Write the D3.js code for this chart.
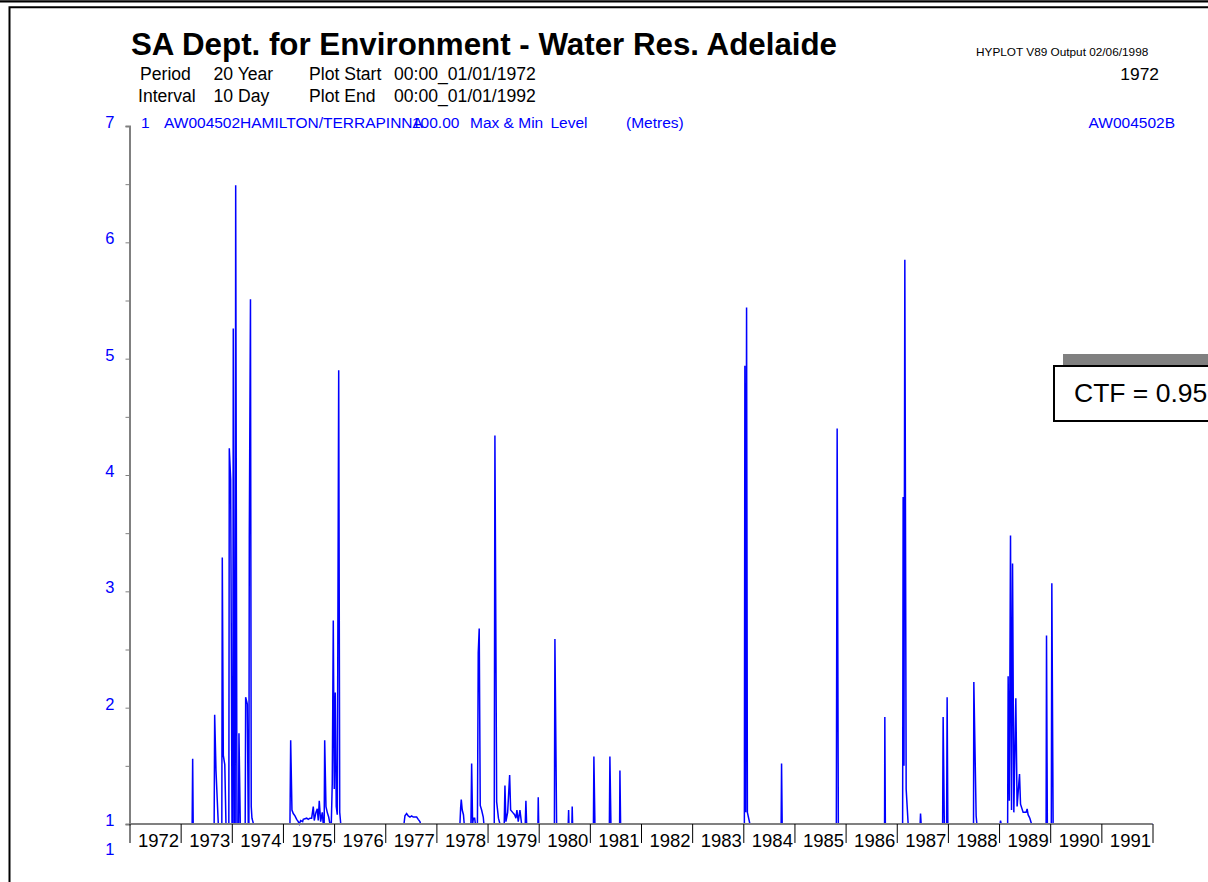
<!DOCTYPE html>
<html><head><meta charset="utf-8">
<script src="https://cdn.jsdelivr.net/npm/d3@7"></script>
<style>
body{margin:0;background:#fff}
svg{display:block}
text{font-family:"Liberation Sans",Arial,sans-serif}
</style>
</head><body>
<svg id="c" width="1208" height="882"></svg>
<script>
// ---- data ----
const yearLabels = ["1972","1973","1974","1975","1976","1977","1978","1979","1980","1981",
                    "1982","1983","1984","1985","1986","1987","1988","1989","1990","1991"];
const yTickValues = [1,2,3,4,5,6,7];
const yMinorValues = [1.5,2.5,3.5,4.5,5.5,6.5];
// decimal-year dates and water levels (m)
const dates = [
 1972.000,1973.225,1973.235,1973.245,1973.655,1973.665,1973.691,1973.736,1973.805,1973.814,
 1973.834,1973.863,1973.886,1973.942,1973.951,1973.978,1974.004,1974.020,1974.029,1974.052,
 1974.066,1974.076,1974.101,1974.132,1974.140,1974.166,1974.262,1974.271,1974.303,1974.322,
 1974.334,1974.342,1974.365,1974.380,1974.394,1974.424,
 1975.137,1975.151,1975.176,1975.202,1975.235,1975.268,1975.299,1975.319,1975.346,1975.385,
 1975.397,1975.464,1975.495,1975.528,1975.561,1975.593,1975.612,1975.645,1975.671,1975.690,
 1975.710,1975.737,1975.769,1975.788,1975.806,1975.816,1975.841,1975.866,1975.894,1975.919,
 1975.945,1975.964,1975.984,1976.003,1976.023,1976.042,1976.062,1976.090,1976.110,1976.130,
 1977.366,1977.385,1977.418,1977.450,1977.483,1977.516,1977.547,1977.614,1977.645,1977.678,1977.692,
 1978.460,1978.474,1978.486,1978.505,1978.529,1978.544,
 1978.675,1978.689,1978.708,1978.724,1978.748,1978.763,
 1978.802,1978.818,1978.837,1978.857,1978.884,1978.916,1978.929,
 1979.131,1979.144,1979.178,1979.213,1979.242,
 1979.326,1979.340,1979.359,1979.393,1979.432,1979.451,1979.490,1979.529,1979.555,1979.574,
 1979.600,1979.633,1979.666,
 1979.737,1979.750,1979.764,
 1979.985,1979.991,1980.000,
 1980.307,1980.317,1980.350,
 1980.577,1980.585,1980.591,
 1980.649,1980.655,1980.663,
 1981.070,1981.079,1981.099,
 1981.382,1981.392,1981.412,
 1981.582,1981.588,1981.601,
 1984.021,1984.031,1984.047,1984.064,1984.080,1984.129,
 1984.740,1984.748,1984.760,
 1985.819,1985.835,1985.858,
 1986.762,1986.767,1986.777,
 1987.115,1987.125,1987.141,1987.158,1987.184,1987.223,
 1987.457,1987.465,1987.477,
 1987.897,1987.907,1987.930,
 1987.975,1987.985,1987.999,
 1988.501,1988.507,1988.552,1988.566,
 1989.021,1989.029,1989.041,
 1989.168,1989.178,1989.201,1989.224,1989.244,1989.264,1989.289,1989.328,1989.353,1989.400,
 1989.420,1989.471,1989.529,1989.549,1989.568,1989.602,1989.635,
 1989.920,1989.928,1989.944,
 1990.022,1990.032,1990.057,
 1992.000
];
const levels = [
 1.00,1.00,1.56,1.00,1.00,1.94,1.46,1.00,1.00,3.29,
 1.59,1.51,1.00,1.00,4.23,3.96,1.00,1.00,5.26,1.00,
 1.00,6.49,1.00,1.00,1.78,1.00,1.00,2.09,2.03,1.00,
 1.00,3.46,5.51,1.15,1.05,1.00,
 1.00,1.72,1.12,1.09,1.07,1.04,1.02,1.00,1.03,1.02,
 1.04,1.05,1.04,1.05,1.05,1.15,1.03,1.10,1.13,1.03,
 1.20,1.02,1.10,1.00,1.00,1.72,1.15,1.10,1.06,1.00,
 1.00,1.35,2.75,1.30,2.13,1.15,1.08,4.90,1.10,1.00,
 1.00,1.07,1.09,1.07,1.06,1.07,1.06,1.06,1.04,1.02,1.00,
 1.00,1.14,1.21,1.12,1.08,1.00,
 1.00,1.52,1.00,1.05,1.05,1.00,
 1.00,2.47,2.68,1.16,1.12,1.06,1.00,
 1.00,4.34,1.19,1.05,1.00,
 1.00,1.33,1.02,1.10,1.42,1.12,1.10,1.08,1.05,1.12,
 1.02,1.12,1.00,
 1.00,1.20,1.00,
 1.00,1.23,1.00,
 1.00,2.59,1.00,
 1.00,1.12,1.00,
 1.00,1.15,1.00,
 1.00,1.58,1.00,
 1.00,1.58,1.00,
 1.00,1.46,1.00,
 1.00,4.94,1.10,5.44,1.10,1.00,
 1.00,1.52,1.00,
 1.00,4.40,1.00,
 1.00,1.92,1.00,
 1.00,3.81,1.50,5.85,1.30,1.00,
 1.00,1.09,1.00,
 1.00,1.92,1.00,
 1.00,2.09,1.00,
 1.00,2.22,1.07,1.00,
 1.00,1.03,1.00,
 1.00,2.27,1.20,3.48,1.12,3.24,1.10,2.08,1.15,1.43,
 1.17,1.10,1.10,1.13,1.08,1.05,1.00,
 1.00,2.62,1.00,
 1.00,3.07,1.00,
 1.00
];
const series = dates.map((d,i)=>({t:d, v:levels[i]}));

// ---- drawing ----
const svg = d3.select("#c");
const BLUE = "#0000ff";
const x = d3.scaleLinear().domain([1972,1992]).range([129.5,1152.5]);
const y = d3.scaleLinear().domain([1,7]).range([824,126]);

// frame
svg.append("line").attr("x1",0).attr("x2",1208).attr("y1",1.3).attr("y2",1.3)
   .attr("stroke","#000").attr("stroke-width",2.2);
svg.append("path").attr("d","M9.5,882 V7.3 H1208").attr("fill","none")
   .attr("stroke","#000").attr("stroke-width",2);

// header
svg.append("text").attr("x",131).attr("y",55).attr("font-size",31.3).attr("font-weight","bold")
   .text("SA Dept. for Environment - Water Res. Adelaide");
const hdr = [
  ["Period",140,80],["20 Year",213.5,80],["Plot Start",309,80],["00:00_01/01/1972",394,80],
  ["Interval",138,101.5],["10 Day",213.5,101.5],["Plot End",309,101.5],["00:00_01/01/1992",394,101.5]
];
svg.selectAll("text.hdr").data(hdr).join("text").attr("class","hdr")
   .attr("x",d=>d[1]).attr("y",d=>d[2]).attr("font-size",17.6).text(d=>d[0]);
svg.append("text").attr("x",976).attr("y",56).attr("font-size",11.8)
   .text("HYPLOT V89  Output 02/06/1998");
svg.append("text").attr("x",1159).attr("y",80).attr("text-anchor","end").attr("font-size",17.4)
   .text("1972");

// blue series header line
const sh = [["1",141],["AW004502",164],["HAMILTON/TERRAPINNA",240],["100.00",412],
            ["Max & Min",470],["Level",550.5],["(Metres)",626]];
svg.selectAll("text.sh").data(sh).join("text").attr("class","sh")
   .attr("x",d=>d[1]).attr("y",128).attr("font-size",15.5).attr("fill",BLUE).text(d=>d[0]);
svg.append("text").attr("x",1175).attr("y",128).attr("text-anchor","end").attr("font-size",15.5)
   .attr("fill",BLUE).text("AW004502B");

// data line
const line = d3.line().x(d=>x(d.t)).y(d=>y(Math.max(1,d.v)));
svg.append("path").datum(series).attr("d",line).attr("fill","none")
   .attr("stroke",BLUE).attr("stroke-width",1.5).attr("stroke-linejoin","miter");

// y axis
const yAxis = d3.axisLeft(y).tickValues(yTickValues).tickSize(4).tickFormat(d3.format("d"));
const gy = svg.append("g").attr("transform","translate(129.5,0)").call(yAxis);
gy.select(".domain").attr("stroke","#808080").attr("stroke-width",2);
gy.selectAll(".tick line").attr("stroke","#808080");
gy.selectAll(".tick text").attr("font-size",16.5).attr("fill",BLUE).attr("x",-15).attr("dy","0.1em")
   .attr("font-family","Liberation Sans, Arial, sans-serif");
const yAxisMinor = d3.axisLeft(y).tickValues(yMinorValues).tickSize(4).tickFormat("");
const gym = svg.append("g").attr("transform","translate(129.5,0)").call(yAxisMinor);
gym.select(".domain").remove();
gym.selectAll(".tick line").attr("stroke","#808080");
// extra lower label
svg.append("text").attr("x",114.5).attr("y",y(1)+31).attr("text-anchor","end").attr("font-size",16.5)
   .attr("fill",BLUE).text(yTickValues[0]);

// x axis
const yearBounds = d3.range(1972,1993);
const xAxis = d3.axisBottom(x).tickValues(yearBounds).tickSize(19).tickFormat("");
const gx = svg.append("g").attr("transform","translate(0,824)").call(xAxis);
gx.select(".domain").attr("stroke","#808080").attr("stroke-width",2).attr("d","M129.5,0H1152.5");
gx.selectAll(".tick line").attr("stroke","#000");
svg.selectAll("text.yl").data(yearLabels).join("text").attr("class","yl")
   .attr("x",(d)=>x(+d+1)-1.5).attr("y",846.5).attr("text-anchor","end").attr("font-size",18.5)
   .text(d=>d);

// CTF box
svg.append("rect").attr("x",1063).attr("y",354).attr("width",150).attr("height",11).attr("fill","#808080");
svg.append("rect").attr("x",1054).attr("y",366).attr("width",160).attr("height",55)
   .attr("fill","#fff").attr("stroke","#000").attr("stroke-width",2);
svg.append("text").attr("x",1074).attr("y",401.5).attr("font-size",26.5).text("CTF = 0.95");
</script>
</body></html>
